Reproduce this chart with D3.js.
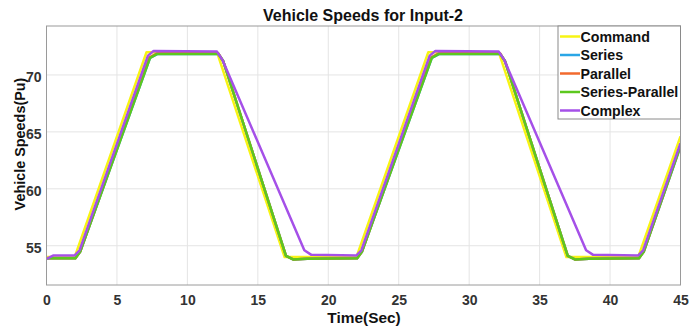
<!DOCTYPE html>
<html>
<head>
<meta charset="utf-8">
<script src="https://cdn.jsdelivr.net/npm/d3@7"></script>
<style>
  html, body { margin: 0; padding: 0; background: #fff; }
  svg { display: block; font-family: "Liberation Sans", Arial, sans-serif; }
</style>
</head>
<body>
<svg id="chart" width="689" height="331"></svg>
<script>
// Vehicle speed traces for the Input-2 drive cycle (time in s, speed in pu)
const seriesNames = ["Command", "Series", "Parallel", "Series-Parallel", "Complex"];
const seriesColors = ["#f7f414", "#2aa6e6", "#f26a2e", "#5cc81e", "#a550e8"];

const commandT = [0, 2.0, 7.1, 12.1, 16.9, 22.0, 27.1, 32.1, 36.9, 42.0, 45];
const commandV = [54, 54, 72, 72, 54, 54, 72, 72, 54, 54, 64.6];

const seriesT = [0, 2.05, 2.4, 7.35, 7.9, 12.2, 12.55, 17.0, 17.5, 18.5, 22.05, 22.4, 27.35, 27.9, 32.2, 32.55, 37.0, 37.5, 38.5, 42.05, 42.4, 45];
const seriesV = [53.9, 53.9, 54.5, 71.5, 71.85, 71.85, 71.2, 54.1, 53.8, 53.85, 53.9, 54.5, 71.5, 71.85, 71.85, 71.2, 54.1, 53.8, 53.85, 53.9, 54.5, 63.7];

const parallelT = [0, 2.05, 2.4, 7.3, 7.85, 12.2, 12.55, 17.0, 17.5, 18.5, 22.05, 22.4, 27.3, 27.85, 32.2, 32.55, 37.0, 37.5, 38.5, 42.05, 42.4, 45];
const parallelV = [53.9, 53.9, 54.5, 71.55, 71.9, 71.9, 71.2, 54.1, 53.8, 53.85, 53.9, 54.5, 71.55, 71.9, 71.9, 71.2, 54.1, 53.8, 53.85, 53.9, 54.5, 63.8];

const seriesParallelT = [0, 2.05, 2.4, 7.35, 7.85, 12.2, 12.55, 17.0, 17.5, 18.5, 22.05, 22.4, 27.35, 27.85, 32.2, 32.55, 37.0, 37.5, 38.5, 42.05, 42.4, 45];
const seriesParallelV = [53.9, 53.9, 54.5, 71.5, 71.85, 71.85, 71.2, 54.1, 53.8, 53.85, 53.9, 54.5, 71.5, 71.85, 71.85, 71.2, 54.1, 53.8, 53.85, 53.9, 54.5, 63.8];

const complexT = [0, 0.5, 2.0, 2.35, 7.2, 7.6, 12.1, 12.5, 18.3, 18.8, 22.0, 22.35, 27.2, 27.6, 32.1, 32.5, 38.3, 38.8, 42.0, 42.35, 45];
const complexV = [53.85, 54.15, 54.15, 54.6, 71.7, 72.1, 72.05, 71.3, 54.6, 54.2, 54.15, 54.6, 71.7, 72.1, 72.05, 71.3, 54.6, 54.2, 54.15, 54.6, 64.0];

const xTicks = [0, 5, 10, 15, 20, 25, 30, 35, 40, 45];
const yTicks = [55, 60, 65, 70];

const traces = [
  [commandT, commandV],
  [seriesT, seriesV],
  [parallelT, parallelV],
  [seriesParallelT, seriesParallelV],
  [complexT, complexV]
].map(([t, v], i) => ({
  name: seriesNames[i],
  color: seriesColors[i],
  points: t.map((ti, k) => ({ t: ti, v: v[k] }))
}));

const svg = d3.select("#chart");
const margin = { left: 46.5, right: 8.5, top: 26, bottom: 46 };
const W = 689, H = 331;
const iw = W - margin.left - margin.right;
const ih = H - margin.top - margin.bottom;

const x = d3.scaleLinear().domain([0, 45]).range([margin.left, margin.left + iw]);
const y = d3.scaleLinear().domain([51.55, 74.3]).range([margin.top + ih, margin.top]);

// grid
const grid = svg.append("g");
grid.selectAll("line.gx").data(xTicks.slice(1, -1)).join("line")
  .attr("x1", d => x(d)).attr("x2", d => x(d))
  .attr("y1", margin.top).attr("y2", margin.top + ih)
  .attr("stroke", "#e4e4e4").attr("stroke-width", 1);
grid.selectAll("line.gy").data(yTicks).join("line")
  .attr("x1", margin.left).attr("x2", margin.left + iw)
  .attr("y1", d => y(d)).attr("y2", d => y(d))
  .attr("stroke", "#e4e4e4").attr("stroke-width", 1);

// traces
svg.append("clipPath").attr("id", "plotclip").append("rect")
  .attr("x", margin.left).attr("y", margin.top).attr("width", iw).attr("height", ih);
const line = d3.line().x(d => x(d.t)).y(d => y(d.v));
svg.append("g").attr("clip-path", "url(#plotclip)")
  .selectAll("path").data(traces).join("path")
  .attr("d", d => line(d.points))
  .attr("fill", "none")
  .attr("stroke", d => d.color)
  .attr("stroke-width", 2.5)
  .attr("stroke-linejoin", "round");

// axes
const xAxis = svg.append("g").attr("transform", `translate(0,${margin.top + ih})`)
  .call(d3.axisBottom(x).tickValues(xTicks).tickSize(0).tickPadding(10));
const yAxis = svg.append("g").attr("transform", `translate(${margin.left},2)`)
  .call(d3.axisLeft(y).tickValues(yTicks).tickSize(0).tickPadding(5));
[xAxis, yAxis].forEach(a => {
  a.select(".domain").remove();
  a.selectAll("text").attr("font-size", 14).attr("font-weight", "bold")
    .attr("fill", "#333").attr("font-family", "'Liberation Sans', Arial, sans-serif");
});

// box
svg.append("rect")
  .attr("x", margin.left).attr("y", margin.top).attr("width", iw).attr("height", ih)
  .attr("fill", "none").attr("stroke", "#9a9a9a").attr("stroke-width", 1);

// titles
svg.append("text").attr("x", 363).attr("y", 20.5).attr("text-anchor", "middle")
  .attr("font-size", 16).attr("font-weight", "bold").attr("fill", "#111")
  .text("Vehicle Speeds for Input-2");
svg.append("text").attr("x", 364).attr("y", 323).attr("text-anchor", "middle")
  .attr("font-size", 15.4).attr("font-weight", "bold").attr("fill", "#111")
  .text("Time(Sec)");
svg.append("text").attr("transform", "translate(25,144) rotate(-90)")
  .attr("text-anchor", "middle")
  .attr("font-size", 14.4).attr("font-weight", "bold").attr("fill", "#111")
  .text("Vehicle Speeds(Pu)");

// legend
const lg = svg.append("g").attr("transform", "translate(558,26)");
lg.append("rect").attr("width", 122.5).attr("height", 93)
  .attr("fill", "#fff").attr("stroke", "#8a8a8a").attr("stroke-width", 1);
const rows = lg.selectAll("g.row").data(traces).join("g")
  .attr("transform", (d, i) => `translate(0,${10.5 + i * 18.5})`);
rows.append("line").attr("x1", 2).attr("x2", 22).attr("y1", 0).attr("y2", 0)
  .attr("stroke", d => d.color).attr("stroke-width", 2.5);
rows.append("text").attr("x", 22.5).attr("y", 5)
  .attr("font-size", 14.2).attr("font-weight", "bold").attr("fill", "#111")
  .text(d => d.name);
</script>
</body>
</html>
